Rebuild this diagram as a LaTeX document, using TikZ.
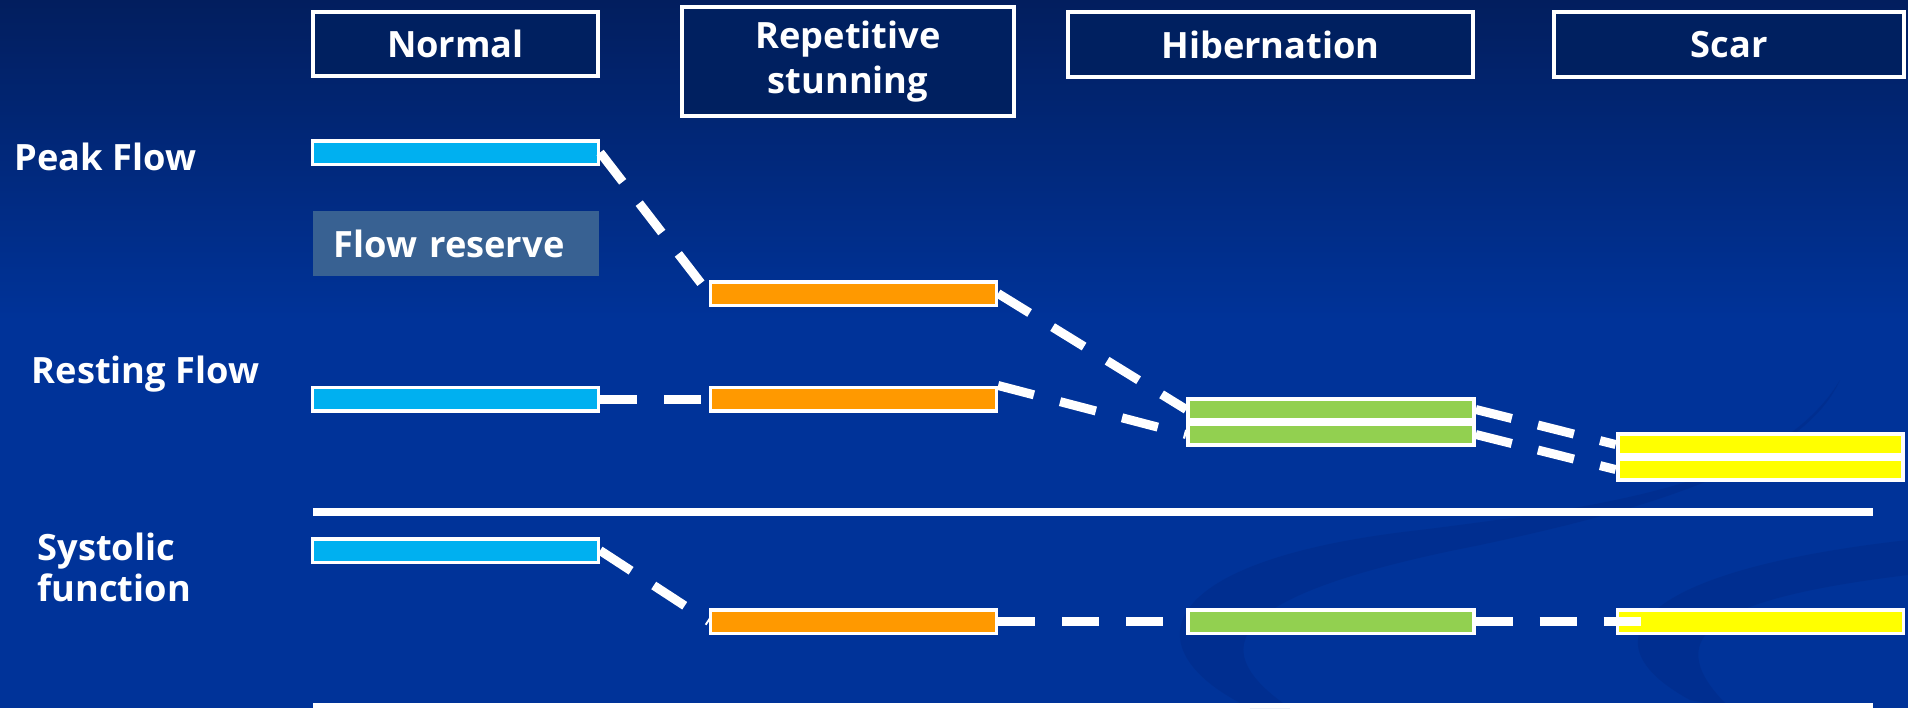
\documentclass[tikz,border=0pt]{standalone}
\usepackage{fontspec}
\setmainfont{Open Sans}
\definecolor{bgtop}{RGB}{2,30,94}
\definecolor{bgblue}{RGB}{0,51,153}
\definecolor{hdrfill}{RGB}{0,32,96}
\definecolor{cyanbar}{RGB}{0,176,240}
\definecolor{orangebar}{RGB}{255,153,0}
\definecolor{greenbar}{RGB}{146,208,80}
\definecolor{yellowbar}{RGB}{255,255,0}
\definecolor{reserve}{RGB}{56,97,146}
\definecolor{swirl}{RGB}{0,44,138}

\begin{document}
\begin{tikzpicture}[x = 0.01cm, y = -0.01cm,
  font=\fontsize{10.3}{13}\selectfont\bfseries,
  hdr/.style={draw=white, line width=0.04cm, fill=hdrfill, text=white, align=center, inner sep=0pt},
  bar/.style={draw=white, line width=0.035cm, minimum width=2.855cm, minimum height=0.235cm, inner sep=0pt},
  barpair/.style={bar, line width=0.04cm, minimum height=0.21cm},
  lbl/.style={text=white, anchor=west, inner sep=0pt, align=left},
  link/.style={draw=white, line width=0.09cm, dash pattern=on 0.37cm off 0.27cm}]
\useasboundingbox (0,0) rectangle (1908,708);
% background
\fill[bgblue] (0,0) rectangle (1908,708);
\shade[top color=bgtop, bottom color=bgblue] (0,0) rectangle (1908,320);
\fill[swirl, opacity=0.6] (1250,708) .. controls (1130,650) and (1150,560) .. (1420,530) .. controls (1620,505) and (1780,480) .. (1840,380) .. controls (1800,470) and (1620,515) .. (1480,545) .. controls (1250,590) and (1190,640) .. (1290,708) -- cycle;
\fill[swirl, opacity=0.6] (1690,700) .. controls (1580,640) and (1640,570) .. (1908,540) -- (1908,575) .. controls (1700,600) and (1660,640) .. (1730,708) -- cycle;

% column heads
\node[hdr, minimum width=2.85cm, minimum height=0.64cm] (normal) at (455.5,44) {Normal};
\node[hdr, minimum width=3.32cm, minimum height=1.09cm] (repet) at (848,61.5) {Repetitive\\stunning};
\node[hdr, minimum width=4.05cm, minimum height=0.65cm] (hiber) at (1270.5,44.5) {Hibernation};
\node[hdr, minimum width=3.50cm, minimum height=0.65cm] (scar) at (1729,44.5) {Scar};

% row labels
\node[lbl] (peaklbl) at (14,157) {Peak Flow};
\node[lbl] (restlbl) at (31,374) {Resting Flow};
\node[lbl, font=\fontsize{10.3}{11.6}\selectfont\bfseries] (syslbl) at (37,567.5) {Systolic\\function};
\node[fill=reserve, text=white, anchor=west, minimum height=0.65cm, inner xsep=0.21cm, text width=2.44cm] (reserve) at (312,243.5) {Flow reserve};

% bars
\node[bar, fill=cyanbar] (cpeak) at (455.5,152.5) {};
\node[bar, fill=orangebar] (opeak) at (853.5,293.5) {};
\node[bar, fill=cyanbar] (crest) at (455.5,399) {};
\node[bar, fill=orangebar] (orest) at (853.5,399) {};
\node[barpair, fill=greenbar] (gup) at (1331,409.5) {};
\node[barpair, fill=greenbar] (glo) at (1331,434.5) {};
\node[barpair, fill=yellowbar] (yup) at (1760.5,444.5) {};
\node[barpair, fill=yellowbar] (ylo) at (1760.5,469.5) {};
\node[bar, fill=cyanbar] (csys) at (455.5,550.5) {};
\node[bar, fill=orangebar] (osys) at (853.5,621.5) {};
\node[bar, fill=greenbar] (gsys) at (1331,621.5) {};
\node[bar, fill=yellowbar] (ysys) at (1760.5,621.5) {};

% rules
\fill[white] (313,508) rectangle (1873,516);
\fill[white] (313,703) rectangle (1873,708);

% dashed links
\draw[link] (cpeak.east) -- (opeak.west);
\draw[link] (crest.east) -- (orest.west);
\draw[link] (opeak.east) -- (gup.west);
\draw[link] (orest.north east) -- (glo.west);
\draw[link] (gup.east) -- (yup.west);
\draw[link] (glo.east) -- (ylo.west);
\draw[link] (csys.east) -- (osys.west);
\draw[link] (osys.east) -- (gsys.west);
\draw[link] (gsys.east) -- ([xshift=0.25cm]ysys.west);
\end{tikzpicture}
\end{document}
